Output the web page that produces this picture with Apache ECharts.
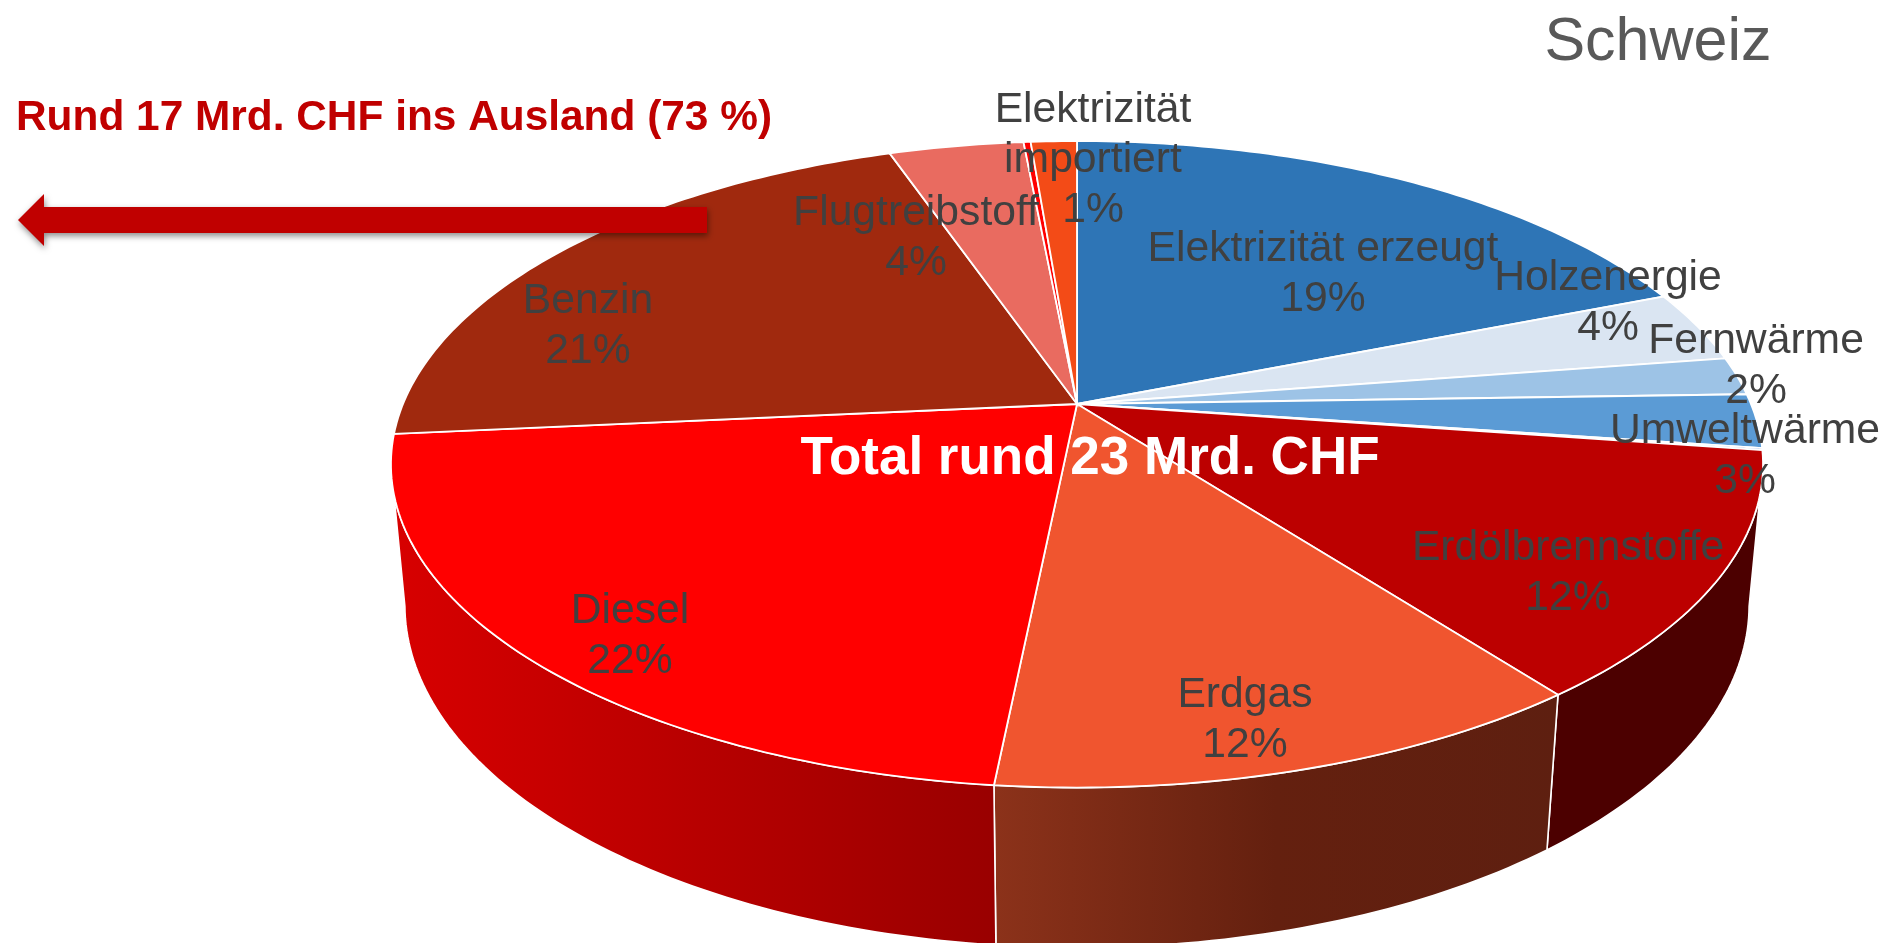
<!DOCTYPE html>
<html>
<head>
<meta charset="utf-8">
<title>Schweiz</title>
<style>
  html, body { margin: 0; padding: 0; background: #fff; }
  #chart { width: 1891px; height: 943px; }
</style>
<script src="https://cdn.jsdelivr.net/npm/echarts@6/dist/echarts.min.js"></script>
</head>
<body>
<div id="chart"></div>
<script>
// data, clockwise from 12 o'clock (share in %)
var categories = ['Elektrizität erzeugt', 'Holzenergie', 'Fernwärme', 'Umweltwärme', null,
  'Erdölbrennstoffe', 'Erdgas', 'Diesel', 'Benzin', 'Flugtreibstoff', null, 'Elektrizität\nimportiert'];
var shares = [19.0, 3.6, 1.9, 2.7, 0.1, 12.3, 12.0, 21.9, 21.2, 3.8, 0.2, 1.3];

// styles
var topColors = ['#2e75b6', '#dae5f2', '#9dc3e6', '#5b9bd5', '#4472c4',
  '#bc0000', '#f0552f', '#ff0000', '#a0290e', '#e96b60', '#ff0000', '#f34b17'];
// only the slices at the front show a wall
var wallColors = [null, null, null, null, null,
  ['#4c0000'],
  ['#8c321a', '#64200f', '#5e1f10'],
  ['#d80000', '#b80000', '#990000'],
  null, null, null, null
];
// centre of each label block, in pixels
var labelAnchors = [[1323, 274], [1608, 303], [1756, 366], [1745, 456], null,
  [1568, 573], [1245, 720], [630, 636], [588, 326], [916, 238], null, [1093, 160]];

// tilted disc, projective so the apex sits above the middle of the ellipse
var apexX = 1077, apexY = 404;
var discR = 674, discS = 312, tilt = 0.1866;
var wallShift = 141, wallShrink = 0.02;
var FONT = '"Liberation Sans", Arial, sans-serif';

// the wall is seen between these two shares, where it turns away from the viewer
var wallFrom = Math.acos(-tilt) / (Math.PI * 2) * 100;
var wallTo = 100 - wallFrom;

function project(share, z) {
  var a = share / 100 * Math.PI * 2;
  var X = Math.sin(a), Y = Math.cos(a);
  var w = 1 + tilt * Y + z * wallShrink;
  return [apexX + discR * X / w, apexY + (-discS * Y + z * wallShift) / w];
}

function arc(from, to, z) {
  var n = Math.ceil((to - from) * 3.6) + 1, pts = [];
  for (var i = 0; i <= n; i++) pts.push(project(from + (to - from) * i / n, z));
  return pts;
}

// [start, end] of every slice
var sliceData = [];
shares.reduce(function (sum, v, i) {
  sliceData.push([sum, sum + v, i]);
  return sum + v;
}, 0);

function wallFill(i) {
  var c = wallColors[i];
  if (c.length === 1) return c[0];
  return new echarts.graphic.LinearGradient(0, 0, 1, 0, c.map(function (col, k) {
    return { offset: k / (c.length - 1), color: col };
  }));
}

function renderWall(params, api) {
  var i = api.value(2);
  if (!wallColors[i]) return null;
  var from = Math.max(api.value(0), wallFrom), to = Math.min(api.value(1), wallTo);
  return {
    type: 'polygon',
    shape: { points: arc(from, to, 0).concat(arc(from, to, 1).reverse()) },
    style: { fill: wallFill(i), stroke: '#fff', lineWidth: 1.6 }
  };
}

function renderTop(params, api) {
  var from = api.value(0), to = api.value(1), i = api.value(2);
  return {
    type: 'polygon',
    shape: { points: [[apexX, apexY]].concat(arc(from, to, 0)) },
    style: { fill: topColors[i], stroke: '#fff', lineWidth: 1.8 }
  };
}

function renderLabel(params, api) {
  var i = api.value(2);
  if (!categories[i]) return null;
  return {
    type: 'text',
    style: {
      x: labelAnchors[i][0], y: labelAnchors[i][1],
      text: categories[i] + '\n' + Math.round(shares[i]) + '%',
      fill: '#404040', font: '42.67px ' + FONT, lineHeight: 50,
      align: 'center', verticalAlign: 'middle'
    }
  };
}

var myChart = echarts.init(document.getElementById('chart'), null, { renderer: 'canvas' });
var option = {
  animation: false,
  backgroundColor: '#fff',
  series: [
    { type: 'custom', name: 'walls', coordinateSystem: 'none', z: 2, silent: true, data: sliceData, renderItem: renderWall },
    { type: 'custom', name: 'slices', coordinateSystem: 'none', z: 3, silent: true, data: sliceData, renderItem: renderTop },
    { type: 'custom', name: 'labels', coordinateSystem: 'none', z: 6, silent: true, data: sliceData, renderItem: renderLabel }
  ],
  graphic: [
    // arrow to the left, over the pie
    {
      type: 'polygon', z: 4,
      shape: { points: [[18, 220], [44, 194], [44, 207], [707, 207], [707, 233], [44, 233], [44, 246]] },
      style: { fill: '#c00000', shadowColor: 'rgba(0,0,0,0.45)', shadowBlur: 6, shadowOffsetX: 1, shadowOffsetY: 3 }
    },
    {
      type: 'text', z: 5, x: 16, y: 118,
      style: { text: 'Rund 17 Mrd. CHF ins Ausland (73 %)', fill: '#c00000', font: 'bold 42.4px ' + FONT, align: 'left', verticalAlign: 'middle' }
    },
    {
      type: 'text', z: 5, x: 1658, y: 43,
      style: { text: 'Schweiz', fill: '#595959', font: '61px ' + FONT, align: 'center', verticalAlign: 'middle' }
    },
    {
      type: 'text', z: 5, x: 1090, y: 459,
      style: { text: 'Total rund 23 Mrd. CHF', fill: '#fff', font: 'bold 53px ' + FONT, align: 'center', verticalAlign: 'middle' }
    }
  ]
};
myChart.setOption(option);
</script>
</body>
</html>
